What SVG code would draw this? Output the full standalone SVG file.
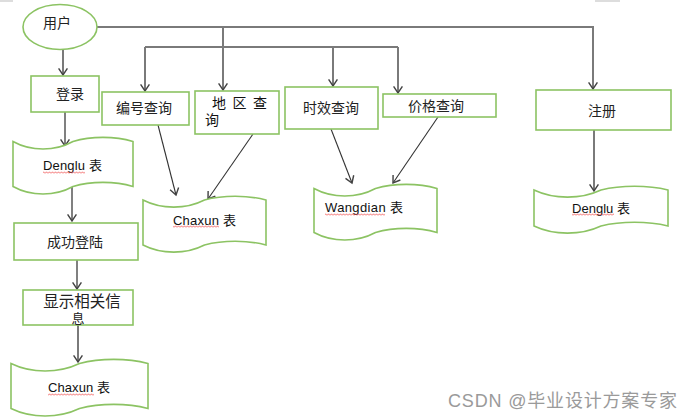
<svg xmlns="http://www.w3.org/2000/svg" width="693" height="419" viewBox="0 0 693 419">
<style>
.box{fill:#fff;stroke:#8cc363;stroke-width:1.6}
.t{font-family:"Liberation Sans","Noto Sans CJK SC",sans-serif;font-size:14px;fill:#222;text-anchor:middle}
.l{font-family:"Liberation Sans","Noto Sans CJK SC",sans-serif;font-size:13px;fill:#111}
.main{fill:none;stroke:#7a7a7a;stroke-width:2}
.thin{fill:none;stroke:#4a4a4a;stroke-width:1.4}
.diag{fill:none;stroke:#333;stroke-width:1.1}
.wavy{fill:url(#wv)}
</style>
<defs>
<marker id="ah" markerWidth="11" markerHeight="11" viewBox="0 0 10 10" refX="8" refY="5" orient="auto" markerUnits="userSpaceOnUse">
<path d="M2,1 L8,5 L2,9" fill="none" stroke="#444" stroke-width="1.3"/>
</marker>
<pattern id="wv" width="3" height="3" patternUnits="userSpaceOnUse">
<path d="M0,2.5 L1.5,0.8 L3,2.5" fill="none" stroke="#e33" stroke-width="0.7"/>
</pattern>
</defs>
<rect x="0" y="0" width="13" height="2" fill="#ddd"/>
<rect x="595" y="0" width="25" height="2" fill="#ddd"/>

<g id="connectors">
<polyline class="main" points="97,27 593,27 593,89" marker-end="url(#ah)"/>
<line class="main" x1="223" y1="27" x2="223" y2="90" marker-end="url(#ah)"/>
<line class="main" x1="145" y1="47" x2="398" y2="47"/>
<line class="main" x1="145" y1="47" x2="145" y2="91" marker-end="url(#ah)"/>
<line class="main" x1="333" y1="47" x2="333" y2="86" marker-end="url(#ah)"/>
<line class="main" x1="398" y1="47" x2="398" y2="93" marker-end="url(#ah)"/>
<line class="main" x1="63" y1="50" x2="63" y2="75" marker-end="url(#ah)"/>
<line class="thin" x1="65" y1="112" x2="65" y2="146" marker-end="url(#ah)"/>
<line class="thin" x1="72" y1="187" x2="72" y2="221" marker-end="url(#ah)"/>
<line class="thin" x1="77" y1="260" x2="77" y2="289" marker-end="url(#ah)"/>
<line class="main" x1="78" y1="325" x2="78" y2="362" marker-end="url(#ah)"/>
<line class="main" x1="594" y1="130" x2="594" y2="191" marker-end="url(#ah)"/>
<line class="diag" x1="158" y1="125" x2="176" y2="195" marker-end="url(#ah)"/>
<line class="diag" x1="253" y1="134" x2="208" y2="199" marker-end="url(#ah)"/>
<line class="diag" x1="331" y1="129" x2="352" y2="183" marker-end="url(#ah)"/>
<line class="diag" x1="438" y1="117" x2="393" y2="183" marker-end="url(#ah)"/>
</g>

<g id="user">
<ellipse class="box" cx="60" cy="27" rx="37" ry="22.5"/>
<text class="t" x="57" y="28">用户</text>
</g>
<g id="login">
<rect class="box" x="31" y="76" width="68" height="36"/>
<text class="t" x="70" y="99">登录</text>
</g>
<g id="q-number">
<rect class="box" x="102" y="92" width="87" height="33"/>
<text class="t" x="144" y="113">编号查询</text>
</g>
<g id="q-area">
<rect class="box" x="195" y="91" width="84" height="43"/>
<text class="l" style="font-size:14px" x="212" y="108">地</text>
<text class="l" style="font-size:14px" x="232.5" y="108">区</text>
<text class="l" style="font-size:14px" x="253" y="108">查</text>
<text class="l" style="font-size:14px" x="205" y="125">询</text>
</g>
<g id="q-time">
<rect class="box" x="285" y="87" width="93" height="42"/>
<text class="t" x="331" y="113">时效查询</text>
</g>
<g id="q-price">
<rect class="box" x="383" y="94" width="113" height="23"/>
<text class="t" x="436" y="111">价格查询</text>
</g>
<g id="register">
<rect class="box" x="536" y="90" width="135" height="40"/>
<text class="t" x="602" y="116">注册</text>
</g>
<g id="success">
<rect class="box" x="14" y="223" width="124" height="37"/>
<text class="t" x="75" y="247">成功登陆</text>
</g>
<g id="show-info">
<rect class="box" x="23" y="290" width="110" height="35"/>
<text class="t" style="font-size:15.5px" x="82" y="307">显示相关信</text>
<text class="t" style="font-size:13px" x="78" y="323">息</text>
</g>

<g id="denglu-left">
<path class="box" d="M13,141.5 C31,151.5 55,151.5 73,141.5 C91,136 115,136 133,141.5 L133,186.5 C115,181 91,181 73,186.5 C55,196.5 31,196.5 13,186.5 Z"/>
<text class="l" x="43" y="170" textLength="59">Denglu 表</text>
<rect class="wavy" x="43" y="171" width="42" height="3"/>
</g>
<g id="chaxun-mid">
<path class="box" d="M143,200 C161.5,209.5 186,209.5 204.5,200 C223,195 247.5,195 266,200 L266,245 C247.5,240 223,240 204.5,245 C186,254.5 161.5,254.5 143,245 Z"/>
<text class="l" x="173" y="225" textLength="63">Chaxun 表</text>
<rect class="wavy" x="173" y="225" width="46" height="3"/>
</g>
<g id="wangdian">
<path class="box" d="M314,188.5 C332.5,198.5 357,198.5 375.5,188.5 C394,183 418.5,183 437,188.5 L437,232.5 C418.5,227 394,227 375.5,232.5 C357,242.5 332.5,242.5 314,232.5 Z"/>
<text class="l" x="325" y="212" textLength="78">Wangdian 表</text>
<rect class="wavy" x="325" y="213" width="60" height="3"/>
</g>
<g id="denglu-right">
<path class="box" d="M534,190 C554,199.5 581,199.5 601,190 C621,185 648,185 668,190 L668,226 C648,221 621,221 601,226 C581,235.5 554,235.5 534,226 Z"/>
<text class="l" x="572" y="213" textLength="58">Denglu 表</text>
<rect class="wavy" x="572" y="213" width="42" height="3"/>
</g>
<g id="chaxun-bottom">
<path class="box" d="M11,363.5 C31.5,373.5 58.5,373.5 79.5,363.5 C100,358 127.5,358 148,363.5 L148,408.5 C127.5,403 100,403 79.5,408.5 C58.5,418.5 31.5,418.5 11,408.5 Z"/>
<text class="l" x="48" y="392" textLength="62">Chaxun 表</text>
<rect class="wavy" x="48" y="393" width="46" height="3"/>
</g>

<text x="448" y="407" textLength="229" style="font-family:'Liberation Sans','Noto Sans CJK SC',sans-serif;font-size:18px;fill:#9a9a9a">CSDN @毕业设计方案专家</text>
</svg>
